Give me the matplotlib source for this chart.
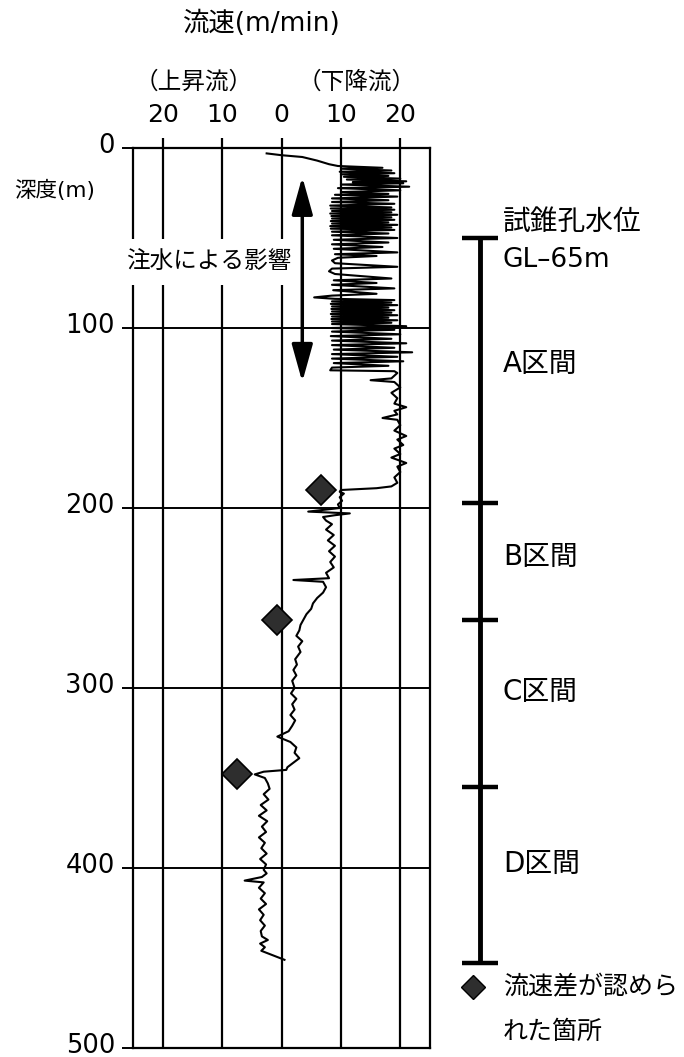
import matplotlib
matplotlib.use("Agg")
import matplotlib.pyplot as plt
import matplotlib.transforms as mtransforms

plt.rcParams['font.family'] = ['DejaVu Sans', 'Noto Sans CJK JP']

# ---- data ----
depth = [3, 4, 5, 7, 9, 10,
         11, 11.5, 12.5, 13.2, 14, 14.6, 15.5, 16, 17, 17.5, 18.5, 19, 19.6, 20.3,
         21.5, 22.3, 23.5, 24.5, 25.5, 26, 27, 28, 29, 30, 31, 32, 33, 33.6, 34.3,
         35, 35.7, 36.4, 37.1, 37.8, 38.5, 39.2, 39.9, 40.6, 41.3, 42, 42.7, 43.4,
         44.1, 44.8, 45.5, 46.5, 47.5, 48.5, 50, 51, 52.5, 53.5, 55, 56, 58, 59, 60,
         61, 62.5, 64, 66, 67, 68.5, 70, 72.5, 73.5, 75, 76, 78, 79, 81, 82, 83,
         83.8, 84.5, 85.2, 85.9, 86.6, 87.3, 88, 88.7, 89.4, 90.1, 90.8, 91.5, 92.2,
         92.9, 93.6, 94.3, 95, 95.7, 96.4, 97.1, 97.8, 99, 100, 101, 102, 103.5,
         104.5, 106, 107, 108.5, 109.5, 111, 112, 113.5, 114.5, 116, 117, 118.5,
         119.5, 121, 122, 123.5, 124,
         125, 128, 129, 130, 133, 136, 139, 142, 144, 146, 148, 150, 151, 154, 157,
         160, 162, 165, 167, 170, 172, 175, 177, 180, 183, 186, 188, 189,
         190, 191, 192, 194, 196, 198, 200, 202, 203, 204, 205, 207, 209, 212, 215,
         218, 221, 224, 227, 230, 233, 236, 239, 240, 241, 244, 247, 250, 253, 256,
         259, 262, 265, 268, 271, 274, 277, 280, 284, 287, 290, 293, 296, 300, 303,
         306, 309, 312, 315, 318, 321, 324, 327, 330, 333, 336, 339, 342, 344, 345.5,
         346.5, 348,
         350, 353, 356, 359, 362, 365, 368, 371, 374, 377, 380, 383, 386, 389, 392,
         395, 398, 401, 403, 405, 407, 408, 411, 414, 417, 420, 423, 426, 429, 432,
         435, 438, 440, 442, 444, 446, 451]
velocity = [-2.5, 0, 3.5, 6, 8, 9.5,
            17, 10, 18.5, 9.8, 19, 10, 18, 10.5, 20, 11, 21, 12, 20.5, 10,
            21.5, 9.5, 20, 10, 18, 9, 19.5, 8.5, 18, 8.5, 19, 8.2, 18.5, 8.3, 19,
            8.5, 18.5, 8.2, 19.5, 8.4, 18.5, 8.5, 19, 8.3, 18, 8.5, 19.5, 8.2,
            18.5, 8.3, 19, 8.5, 18, 8.5, 19.5, 8.8, 18, 8.5, 17, 8.8, 19.5, 9, 16,
            9.5, 8.5, 9, 19.5, 8.5, 8, 9, 18.5, 8.8, 16, 8.5, 19, 8.7, 16, 8.5, 5.5,
            9, 19, 8.5, 18.5, 8.3, 19.5, 8.5, 18, 8.4, 19, 8.5, 18.5, 8.3,
            19.5, 8.5, 18, 8.4, 19.5, 8.5, 18.5, 8.5, 21, 8.5, 19, 8.5, 20,
            8.3, 18.5, 8.5, 21, 8.5, 19, 8.8, 22, 8.5, 19.5, 8.5, 20.5,
            8.8, 18, 8.5, 8.2, 19,
            19.5, 18.5, 15, 19, 20, 18.5, 19.5, 19, 21, 19, 19.5, 17, 19.5, 20, 19,
            21, 19.5, 20.5, 19, 20, 18.5, 21, 19.5, 20, 19, 19.5, 18.5, 16,
            10, 9.8, 10.5, 9.8, 10.2, 9.5, 9.8, 4.5, 11.5, 9, 7, 7.5, 8.5, 7.5, 8.8,
            7.8, 9, 8, 9, 8.2, 8.8, 7.5, 8, 2, 7, 7.5, 7, 6, 5.3, 5,
            4.2, 3.7, 3.2, 3, 2.5, 3.5, 2.8, 3.2, 2.3, 2.6, 2, 2.5, 1.8, 2.2, 1.6,
            2.5, 1.8, 2.2, 1.5, 2.3, 1.8, 1.2, -0.7, 1.5, 2.5, 2.2, 3, 1.8, 1, 0.8,
            -3, -4.5,
            -2.8, -2.3, -2, -3, -2.2, -3.5, -2.5, -3.8, -2.4, -3.3, -2.6, -3.8, -2.8, -3.4, -2.5,
            -3.6, -2.6, -3, -2.5, -3.3, -6.2, -3, -3.8, -2.8, -3.5, -2.6, -3.8, -3, -3.6, -2.8,
            -3.5, -3.3, -2.3, -3.6, -2.8, -3.4, 0.5]

diamond_vel = [6.6, -0.8, -7.5]
diamond_depth = [190, 262, 348]

xtick_pos = [-20, -10, 0, 10, 20]
xtick_labels = ['20', '10', '0', '10', '20']
ytick_pos = [0, 100, 200, 300, 400, 500]

section_bounds = [50, 197, 262, 355, 453]
section_names = ['A区間', 'B区間', 'C区間', 'D区間']
section_label_depth = [120, 227, 302, 398]

arrow_x = 3.5
arrow_top, arrow_bottom = 16, 130

# ---- figure ----
W, H = 684, 1057
fig = plt.figure(figsize=(W / 100, H / 100), dpi=100)

def px_axes(l, t, r, b):
    return [l / W, 1 - b / H, (r - l) / W, (b - t) / H]

ax = fig.add_axes(px_axes(133, 148, 430, 1048))
ax.set_xlim(-25, 25)
ax.set_ylim(500, 0)

for v in xtick_pos:
    ax.axvline(v, color='black', lw=1.6, zorder=1)
for d in ytick_pos[1:-1]:
    ax.axhline(d, color='black', lw=1.4, zorder=1)

for s in ax.spines.values():
    s.set_linewidth(1.6)

ax.xaxis.tick_top()
ax.set_xticks(xtick_pos)
ax.set_xticklabels(xtick_labels)
ax.set_yticks(ytick_pos)
ax.set_yticklabels([str(v) for v in ytick_pos])
ax.tick_params(axis='x', direction='out', length=7, width=1.6, pad=8, labelsize=18)
ax.tick_params(axis='y', direction='out', length=8, width=1.4, pad=5, labelsize=18.5)
shift_up = mtransforms.ScaledTranslation(0, 5 / 100, fig.dpi_scale_trans)
for lab in ax.get_yticklabels():
    lab.set_transform(lab.get_transform() + shift_up)

ax.plot(velocity, depth, color='black', lw=1.5, zorder=3)
ax.plot(diamond_vel, diamond_depth, linestyle='none', marker='D', markersize=15,
        markerfacecolor='#2e2e2e', markeredgecolor='black', markeredgewidth=1.2, zorder=4)

ax.annotate('', xy=(arrow_x, arrow_top), xytext=(arrow_x, arrow_bottom),
            arrowprops=dict(arrowstyle='<|-|>,head_length=1.15,head_width=0.32',
                            mutation_scale=20, lw=2.5, color='black',
                            shrinkA=0, shrinkB=0), zorder=5)
ax.text(-12.3, 63.5, '注水による影響', ha='center', va='center', fontsize=17,
        zorder=4, bbox=dict(facecolor='white', edgecolor='none', pad=8))

# header texts
fig.text(262 / W, 1 - 24 / H, '流速(m/min)', ha='center', va='center', fontsize=19)
fig.text(194 / W, 1 - 82 / H, '（上昇流）', ha='center', va='center', fontsize=17)
fig.text(357 / W, 1 - 82 / H, '（下降流）', ha='center', va='center', fontsize=17)
fig.text(14 / W, 1 - 190 / H, '深度(m)', ha='left', va='center', fontsize=15.5)

# right column: borehole sections
axr = fig.add_axes(px_axes(440, 148, 684, 1048))
axr.set_xlim(0, 1)
axr.set_ylim(500, 0)
axr.axis('off')
bar_x = (480 - 440) / 244
cap = 18 / 244
axr.plot([bar_x, bar_x], [section_bounds[0], section_bounds[-1]], color='black', lw=3.5,
         solid_capstyle='butt')
for b in section_bounds:
    axr.plot([bar_x - cap, bar_x + cap], [b, b], color='black', lw=3.2, solid_capstyle='butt')

tx = (503 - 440) / 244
axr.text(tx, 41, '試錐孔水位', ha='left', va='center', fontsize=20, clip_on=False)
axr.text(tx, 62.4, 'GL–65m', ha='left', va='center', fontsize=19, clip_on=False)
for name, d in zip(section_names, section_label_depth):
    axr.text(tx, d, name, ha='left', va='center', fontsize=20, clip_on=False)

axr.plot([(473 - 440) / 244], [466], linestyle='none', marker='D', markersize=12,
         markerfacecolor='#2e2e2e', markeredgecolor='black', markeredgewidth=1.0,
         clip_on=False)
axr.text(tx, 466, '流速差が認めら', ha='left', va='center', fontsize=18, clip_on=False)
axr.text(tx, 491, 'れた箇所', ha='left', va='center', fontsize=18, clip_on=False)

fig.savefig('out.png', dpi=100)
